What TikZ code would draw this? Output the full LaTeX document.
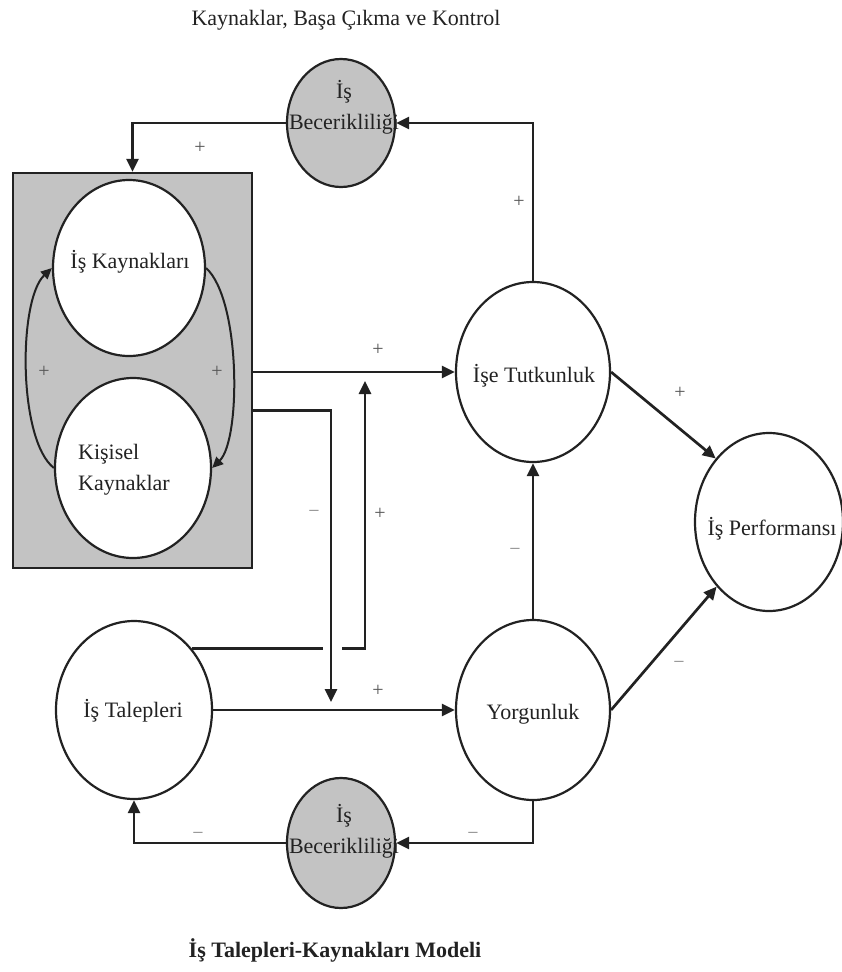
\documentclass[tikz,border=0pt]{standalone}
\usepackage{fontspec}
\setmainfont{Liberation Serif}
\usetikzlibrary{arrows.meta,shapes.geometric}
\definecolor{ink}{HTML}{222222}
\definecolor{boxgray}{HTML}{C3C3C3}
\definecolor{signgray}{HTML}{555555}
\definecolor{minusgray}{HTML}{8A8A8A}
\begin{document}
\begin{tikzpicture}[x=1pt,y=-1pt,
  ell/.style={ellipse, draw=ink, line width=2.2pt, fill=white, inner sep=0pt},
  txt/.style={font=\fontsize{22}{31}\selectfont, text=ink, inner sep=0pt},
  conn/.style={draw=ink, line width=2.7pt},
  arr/.style={conn, -{Triangle[length=13pt,width=12pt]}},
  curv/.style={draw=ink, line width=2pt, -{Triangle[length=11pt,width=10pt]}},
  plus/.style={font=\fontsize{20}{20}\selectfont, text=signgray, inner sep=0pt},
  minus/.style={font=\fontsize{20}{20}\selectfont, text=minusgray, inner sep=0pt}]
\useasboundingbox (0,0) rectangle (841,972);

% titles
\node[txt] (title) at (346,20) {Kaynaklar, Başa Çıkma ve Kontrol};
\node[txt, font=\fontsize{22}{31}\selectfont\bfseries] (model) at (335,950) {İş Talepleri-Kaynakları Modeli};

% box
\node[draw=ink, line width=2.2pt, fill=boxgray, minimum width=239pt, minimum height=395pt, inner sep=0pt] (box) at (132.5,370.5) {};

% ellipses
\node[ell, minimum width=152pt, minimum height=176pt] (ik) at (129,268) {};
\node[ell, minimum width=156pt, minimum height=180pt] (kis) at (133,468) {};
\node[ell, minimum width=156pt, minimum height=178pt] (tal) at (134,710) {};
\node[ell, minimum width=154pt, minimum height=180pt] (tut) at (533,372) {};
\node[ell, minimum width=154pt, minimum height=180pt] (yor) at (533,710) {};
\node[ell, minimum width=148pt, minimum height=178pt] (per) at (769,522) {};
\node[ell, fill=boxgray, minimum width=108pt, minimum height=128pt] (top) at (341,123) {};
\node[ell, fill=boxgray, minimum width=108pt, minimum height=130pt] (bot) at (341,843) {};

% texts
\node[txt] (ikT) at (130,262) {İş Kaynakları};
\node[txt, align=left] (kisT) at (124,470) {Kişisel\\Kaynaklar};
\node[txt] (talT) at (133,711) {İş Talepleri};
\node[txt] (tutT) at (534,376) {İşe Tutkunluk};
\node[txt] (yorT) at (533,714) {Yorgunluk};
\node[txt] (perT) at (772,529) {İş Performansı};
\node[txt, align=center] (topT) at (344,107) {İş\\Becerikliliği};
\node[txt, align=center] (botT) at (344,831) {İş\\Becerikliliği};

% helper coordinates
\coordinate (d2) at (331,702);
\coordinate (g1) at (323,0);
\coordinate (g2) at (342,0);
\coordinate (upend) at (365,381);

% connectors
\draw[arr] (tut.north) -- (tut.north |- top.east) -- (top.east);
\draw[arr] (top.west) -- (top.west -| box.north) -- (box.north);
\draw[curv] (kis.west) .. controls (18,440) and (18,300) .. (ik.west);
\draw[curv] (ik.east) .. controls (241,300) and (241,440) .. (kis.east);
\draw[arr] (box.east |- tut.west) -- (tut.west);
\draw[arr] ([yshift=-40pt]box.east) -| (d2);
\draw[conn] (tal.47) -- (tal.47 -| g1);
\draw[arr] (g2 |- tal.47) -| (upend);
\draw[arr] (tal.east) -- (yor.west);
\draw[arr] (yor.north) -- (tut.south);
\draw[arr] (tut.east) -- (per.130);
\draw[arr] (yor.east) -- (per.231);
\draw[arr] (yor.south) -- (yor.south |- bot.east) -- (bot.east);
\draw[arr] (bot.west) -- (bot.west -| tal.south) -- (tal.south);

% signs
\node[plus] (s1) at (200,148) {+};
\node[plus] (s2) at (519,202) {+};
\node[plus] (s3) at (44,372) {+};
\node[plus] (s4) at (217,372) {+};
\node[plus] (s5) at (378,350) {+};
\node[minus] (s6) at (314,514) {−};
\node[plus] (s7) at (380,514) {+};
\node[plus] (s8) at (378,691) {+};
\node[minus] (s9) at (515,552) {−};
\node[plus] (s10) at (680,393) {+};
\node[minus] (s11) at (679,665) {−};
\node[minus] (s12) at (198,836) {−};
\node[minus] (s13) at (473,836) {−};
\end{tikzpicture}
\end{document}
